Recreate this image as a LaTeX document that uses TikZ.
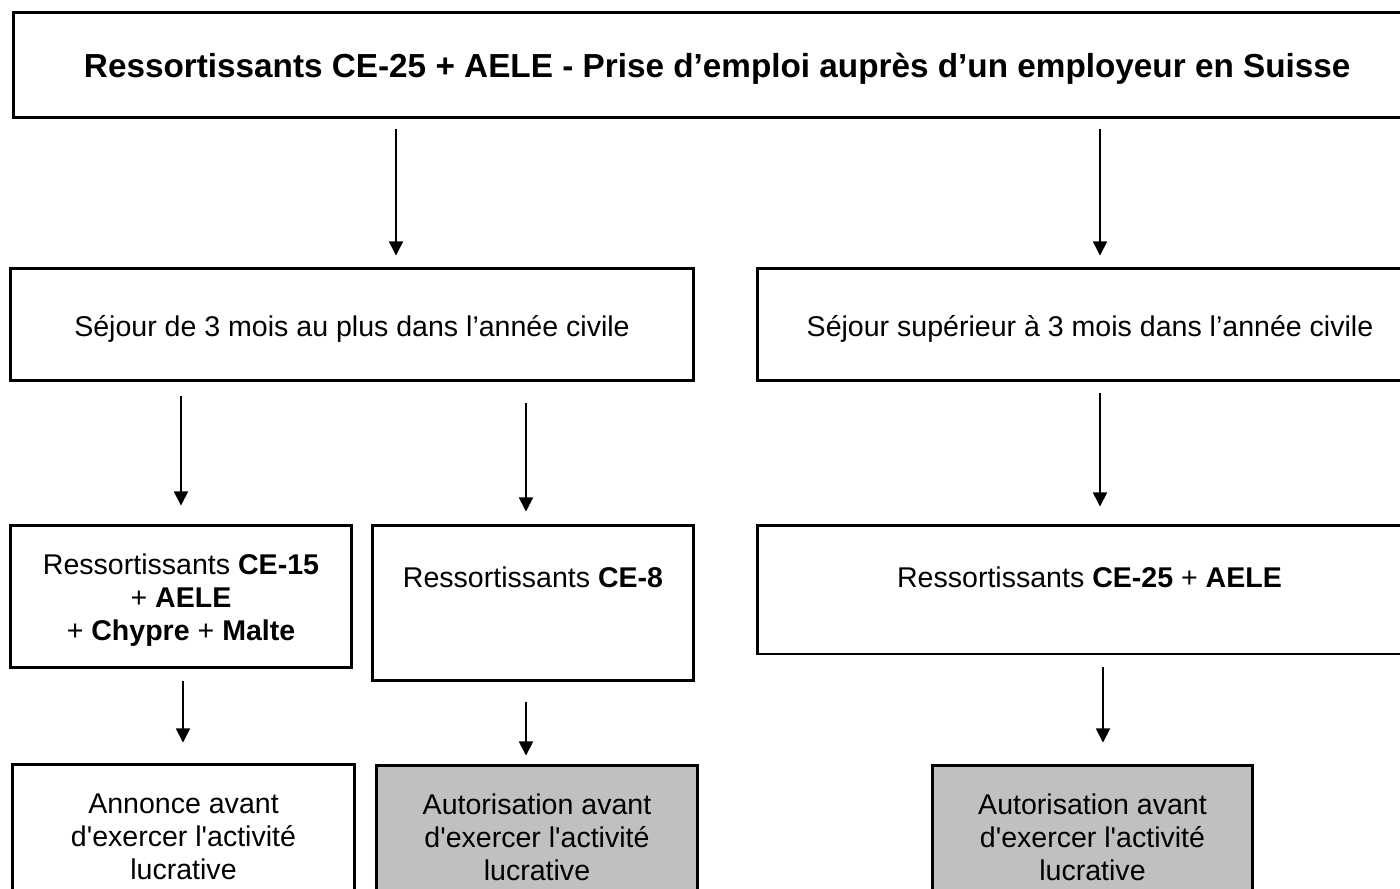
\documentclass[tikz,border=0pt]{standalone}
\usepackage{fontspec}
\setmainfont{Liberation Sans}
\usetikzlibrary{arrows.meta,positioning,calc}
\definecolor{boxgray}{RGB}{192,192,192}

\begin{document}
\begin{tikzpicture}[x=0.02cm, y=-0.02cm,
  box/.style={draw, line width=1.7pt, rectangle, align=center, inner sep=0pt,
    font=\fontsize{16.25pt}{18.7pt}\selectfont},
  grisbox/.style={box, fill=boxgray},
  arr/.style={-{Triangle[width=8pt,length=8pt]}, line width=0.9pt}]
\useasboundingbox (0,0) rectangle (1400,889);
\clip (0,0) rectangle (1400,889);

% titre
\node[box, minimum width=28.15cm, minimum height=2.12cm, text height=14.7pt, text depth=0pt,
  font=\bfseries\fontsize{18.95pt}{21pt}\selectfont] (titre) at (717.25,65)
  {Ressortissants CE-25 + AELE - Prise d’emploi auprès d’un employeur en Suisse};

% durée du séjour
\node[box, minimum width=13.68cm, minimum height=2.26cm, text height=14.2pt, text depth=0pt] (court) at (352,324.5)
  {Séjour de 3 mois au plus dans l’année civile};
\node[box, minimum width=13.32cm, minimum height=2.26cm, text height=14.2pt, text depth=0pt] (long) at (1090,324.5)
  {Séjour supérieur à 3 mois dans l’année civile};

% ressortissants
\node[box, minimum width=6.84cm, minimum height=2.86cm] (ce15) at (181,596.5)
  {\rule{0pt}{16.2pt}Ressortissants \textbf{CE-15}\\+ \textbf{AELE}\\+ \textbf{Chypre} + \textbf{Malte}};
\node[box, minimum width=6.44cm, minimum height=3.12cm, text depth=29.5pt] (ce8) at (533,603)
  {Ressortissants \textbf{CE-8}};
\node[box, minimum width=13.3cm, minimum height=2.58cm, text depth=14.2pt] (ce25) at (1089.5,589.5)
  {Ressortissants \textbf{CE-25} + \textbf{AELE}};

% procédure
\node[box, minimum width=6.86cm, minimum height=2.9cm] (annonce) at (183.5,836.5)
  {Annonce avant\\d\textquotesingle exercer l\textquotesingle activité\\lucrative};
\node[grisbox, minimum width=6.44cm, minimum height=2.9cm] (autorA) at (537,837.5)
  {Autorisation avant\\d\textquotesingle exercer l\textquotesingle activité\\lucrative};
\node[grisbox, minimum width=6.42cm, minimum height=2.9cm] (autorB) at (1092.5,837.5)
  {Autorisation avant\\d\textquotesingle exercer l\textquotesingle activité\\lucrative};

% flèches
\draw[arr] ($(titre.south -| 396,0)+(0,10)$) -- ($(court.north -| 396,0)+(0,-11)$);
\draw[arr] ($(titre.south -| 1100,0)+(0,10)$) -- ($(long.north -| 1100,0)+(0,-11)$);
\draw[arr] ($(court.south -| 181,0)+(0,14)$) -- ($(ce15.north -| 181,0)+(0,-18)$);
\draw[arr] ($(court.south -| 526,0)+(0,21)$) -- ($(ce8.north -| 526,0)+(0,-12)$);
\draw[arr] ($(long.south -| 1100,0)+(0,11)$) -- ($(ce25.north -| 1100,0)+(0,-17)$);
\draw[arr] ($(ce15.south -| 183,0)+(0,12)$) -- ($(annonce.north -| 183,0)+(0,-20)$);
\draw[arr] ($(ce8.south -| 526,0)+(0,20)$) -- ($(autorA.north -| 526,0)+(0,-8)$);
\draw[arr] ($(ce25.south -| 1103,0)+(0,12)$) -- ($(autorB.north -| 1103,0)+(0,-21)$);
\end{tikzpicture}
\end{document}
